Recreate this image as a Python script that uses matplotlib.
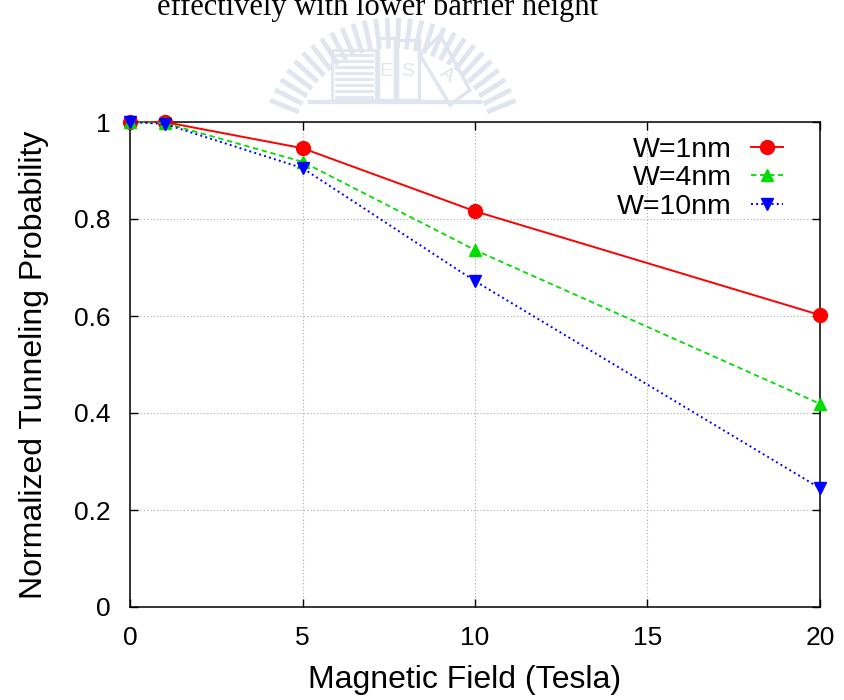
import matplotlib
matplotlib.use("Agg")
import numpy as np
import matplotlib.pyplot as plt
from matplotlib.patches import Rectangle, Polygon

# data (gnuplot style figure)
field = [0, 1, 5, 10, 20]
w1nm = [1.0, 1.0, 0.946, 0.816, 0.602]
w4nm = [1.0, 0.998, 0.918, 0.736, 0.419]
w10nm = [1.0, 0.996, 0.905, 0.672, 0.245]
labels = ["W=1nm", "W=4nm", "W=10nm"]

plt.rcParams['font.family'] = ['Liberation Sans', 'DejaVu Sans']

W, H = 845, 700
fig = plt.figure(figsize=(W / 100, H / 100), dpi=100)

# faint watermark logo behind the figure (pixel coords -> figure fraction)
wm = '#e0e6f0'
cx, cy = 393, 150
for a in np.linspace(22, 158, 28):
    r0, r1 = 104, 130
    t = np.radians(a)
    fig.add_artist(plt.Line2D([(cx + r0 * np.cos(t)) / W, (cx + r1 * np.cos(t)) / W],
                              [1 - (cy - r0 * np.sin(t)) / H, 1 - (cy - r1 * np.sin(t)) / H],
                              color=wm, lw=3.5, zorder=0))
fig.add_artist(Rectangle((332 / W, 1 - 100 / H), 44 / W, 50 / H, fc='none', ec=wm, lw=2, zorder=0))
for yy in range(55, 100, 6):
    fig.add_artist(plt.Line2D([336 / W, 372 / W], [1 - yy / H, 1 - yy / H], color=wm, lw=2, zorder=0))
fig.add_artist(Rectangle((378 / W, 1 - 100 / H), 17 / W, 62 / H, fc='none', ec=wm, lw=2.5, zorder=0))
fig.add_artist(Rectangle((397 / W, 1 - 100 / H), 22 / W, 60 / H, fc='none', ec=wm, lw=2.5, zorder=0))
fig.text(386 / W, 1 - 72 / H, "E", color=wm, fontsize=14, ha='center', va='center', zorder=0)
fig.text(408 / W, 1 - 72 / H, "S", color=wm, fontsize=14, ha='center', va='center', zorder=0)
fig.add_artist(Polygon([(420 / W, 1 - 55 / H), (440 / W, 1 - 35 / H), (470 / W, 1 - 90 / H),
                        (450 / W, 1 - 105 / H)], closed=True, fc='none', ec=wm, lw=2.5, zorder=0))
fig.text(447 / W, 1 - 75 / H, "A", color=wm, fontsize=14, ha='center', va='center',
         rotation=-35, zorder=0)
fig.add_artist(plt.Line2D([310 / W, 480 / W], [1 - 102 / H, 1 - 102 / H], color=wm, lw=3, zorder=0))

# cut-off text line from the page above the figure
fig.text(0.447, 1 - 7 / H, "effectively with lower barrier height", family="Liberation Serif",
         fontsize=22, ha="center", va="center", color="black")

ax = fig.add_axes([130 / W, 1 - 607 / H, 690 / W, 485 / H])

ax.plot(field, w1nm, '-', color='#ff0000', lw=1.4, marker='o', ms=10, label=labels[0],
        clip_on=False, zorder=3)
ax.plot(field, w4nm, '--', color='#00dd00', lw=1.3, marker='^', ms=9, label=labels[1],
        dashes=(3, 2), clip_on=False, zorder=4)
ax.plot(field, w10nm, ':', color='#0000ff', lw=1.4, marker='v', ms=9, label=labels[2],
        clip_on=False, zorder=5)

ax.set_xlim(0, 20)
ax.set_ylim(0, 1)
ax.set_xticks([0, 5, 10, 15, 20])
ax.set_yticks([0, 0.2, 0.4, 0.6, 0.8, 1])
ax.set_yticklabels(["0", "0.2", "0.4", "0.6", "0.8", "1"])
ax.grid(True, color='#aaaaaa', linestyle=(0, (1, 2)), lw=0.8)
ax.tick_params(direction='in', length=6, width=1, labelsize=19, top=True, right=True)
ax.tick_params(axis='x', pad=14)
ax.tick_params(axis='y', pad=14)
for s in ax.spines.values():
    s.set_linewidth(1.1)

ax.set_xlabel("Magnetic Field (Tesla)", fontsize=23, labelpad=11)
ax.xaxis.set_label_coords(0.485, -0.12)
ax.set_ylabel("Normalized Tunneling Probability", fontsize=23, labelpad=18)

ax.legend(loc='upper right', bbox_to_anchor=(0.975, 1.01), frameon=False, markerfirst=False,
          fontsize=20.5, handlelength=1.1, labelspacing=0.08, handletextpad=0.7,
          borderaxespad=0.3)

fig.savefig("out.png", dpi=100)
